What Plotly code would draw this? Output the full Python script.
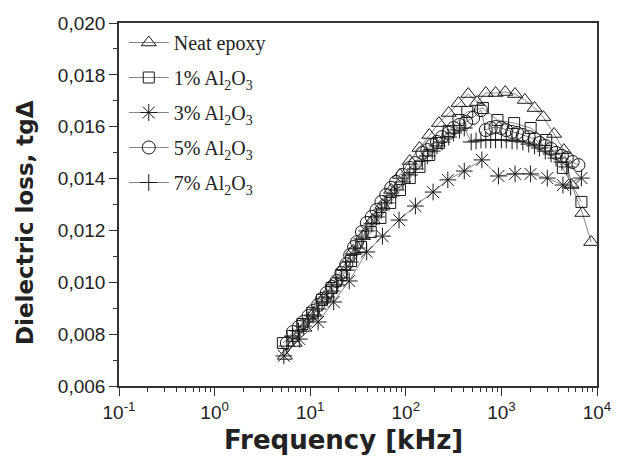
import plotly.graph_objects as go

# ---- data (frequency in kHz, dielectric loss tg delta) ----
f_neat = [5.43, 6.87, 8.69, 11.0, 13.9, 17.6, 22.2, 28.1, 35.6, 45.0, 56.9, 70.3, 86.9, 110, 139, 176, 222, 281, 356, 450,
          556, 687, 869, 1099, 1390, 1758, 2223, 2748, 3556, 4500, 5430, 7031, 8690]
v_neat = [0.00716, 0.00766, 0.00824, 0.00882, 0.00939, 0.00997, 0.01059, 0.01121, 0.01178, 0.01240, 0.01298, 0.01356,
          0.01414, 0.01468, 0.01518, 0.01568, 0.01614, 0.01653, 0.01691, 0.01726, 0.01695, 0.01730, 0.01730, 0.01734,
          0.01726, 0.01703, 0.01672, 0.01637, 0.01572, 0.01510, 0.01375, 0.01267, 0.01155]

f_1 = [5.18, 6.55, 8.28, 10.5, 13.3, 16.8, 21.2, 26.8, 34.0, 43.0, 54.3, 68.7, 86.9, 110, 139, 176, 222, 281, 356, 440,
       640, 910, 1358, 2023, 2945, 4395, 6870]
v_1 = [0.00766, 0.00793, 0.00839, 0.00882, 0.00932, 0.00978, 0.01028, 0.01082, 0.01136, 0.01194, 0.01248, 0.01306,
       0.01356, 0.01402, 0.01445, 0.01491, 0.01537, 0.01583, 0.01626, 0.01657, 0.01672, 0.01626, 0.01614, 0.01595,
       0.01549, 0.01441, 0.01310]

f_3 = [5.3, 7.7, 12.1, 17.6, 25.6, 39, 57, 85, 126, 193, 275, 409, 625, 931, 1390, 2020, 3020, 4400, 6870]
v_3 = [0.00716, 0.00781, 0.00847, 0.00924, 0.01005, 0.01117, 0.01178, 0.01240, 0.01294, 0.01348, 0.01395, 0.01429,
       0.01472, 0.01410, 0.01418, 0.01418, 0.01402, 0.01375, 0.01402]

f_5 = [5.7, 6.6, 7.6, 8.5, 9.6, 10.7, 12.1, 13.3, 14.9, 16.8, 18.9, 21.2, 23.9, 26.2, 28.8, 30.9, 34.8, 39.1, 44.0, 49.4,
       55.6, 62.5, 70.3, 79.1, 93, 110, 126, 149, 168, 189, 212, 239, 281, 316, 364, 429, 506, 611, 687, 773, 869, 1000,
       1125, 1294, 1456, 1675, 1932, 2223, 2500, 2877, 3311, 3724, 4295, 4831, 5559, 6397]
v_5 = [0.00766, 0.00808, 0.00828, 0.00847, 0.00870, 0.00889, 0.00912, 0.00936, 0.00959, 0.00982, 0.01005, 0.01036,
       0.01070, 0.01105, 0.01136, 0.01155, 0.01194, 0.01229, 0.01252, 0.01279, 0.01310, 0.01337, 0.01364, 0.01387,
       0.01414, 0.01441, 0.01460, 0.01499, 0.01510, 0.01529, 0.01541, 0.01560, 0.01576, 0.01595, 0.01607, 0.01618,
       0.01634, 0.01664, 0.01587, 0.01595, 0.01599, 0.01595, 0.01587, 0.01580, 0.01576, 0.01568, 0.01560, 0.01553,
       0.01537, 0.01526, 0.01514, 0.01499, 0.01487, 0.01479, 0.01464, 0.01452]

f_7 = [5.69, 6.55, 7.55, 8.48, 9.55, 10.7, 12.1, 13.3, 14.9, 16.8, 18.9, 21.2, 23.9, 26.2, 28.8, 30.9, 34.8, 39.1, 44.0,
       49.4, 55.6, 62.5, 70.3, 79.1, 93.2, 110, 126, 149, 168, 189, 212, 239, 281, 316, 364, 409, 483, 543, 611, 687,
       773, 869, 1000, 1125, 1294, 1456, 1675, 1932, 2223, 2500, 2877, 3311, 3724, 4295, 4831, 5297]
v_7 = [0.00754, 0.00793, 0.00812, 0.00831, 0.00855, 0.00874, 0.00897, 0.00920, 0.00943, 0.00966, 0.00990, 0.01017,
       0.01047, 0.01078, 0.01109, 0.01132, 0.01167, 0.01198, 0.01225, 0.01252, 0.01279, 0.01306, 0.01333, 0.01356,
       0.01387, 0.01414, 0.01437, 0.01468, 0.01487, 0.01506, 0.01526, 0.01541, 0.01560, 0.01576, 0.01587, 0.01595,
       0.01541, 0.01545, 0.01549, 0.01549, 0.01549, 0.01549, 0.01549, 0.01549, 0.01545, 0.01545, 0.01541, 0.01533,
       0.01526, 0.01518, 0.01506, 0.01495, 0.01479, 0.01464, 0.01445, 0.01367]

names = ["Neat epoxy", "1% Al<sub>2</sub>O<sub>3</sub>", "3% Al<sub>2</sub>O<sub>3</sub>",
         "5% Al<sub>2</sub>O<sub>3</sub>", "7% Al<sub>2</sub>O<sub>3</sub>"]

x_tickvals = [0.1, 1, 10, 100, 1000, 10000]
x_ticktext = ["10<sup>-1</sup>", "10<sup>0</sup>", "10<sup>1</sup>", "10<sup>2</sup>", "10<sup>3</sup>", "10<sup>4</sup>"]

x_title = "Frequency [kHz]"
y_title = "Dielectric loss, tg\u0394"

series = [
    (f_neat, v_neat, "triangle-up-open", 13),
    (f_1, v_1, "square-open", 11),
    (f_3, v_3, "asterisk-open", 14),
    (f_5, v_5, "circle-open", 13),
    (f_7, v_7, "cross-thin-open", 12),
]

fig = go.Figure()
for i, ((fx, vy, sym, sz), nm) in enumerate(zip(series, names)):
    fig.add_trace(go.Scatter(
        x=fx, y=vy, name=nm, mode="lines+markers", legendgroup=f"g{i}",
        line=dict(color="#666666", width=0.8),
        marker=dict(symbol=sym, size=sz, color="#1a1a1a", line=dict(color="#1a1a1a", width=1)),
    ))

axis_common = dict(
    showline=True, linecolor="#333333", linewidth=1.6, mirror=True,
    ticks="outside", ticklen=8, tickwidth=1.4, tickcolor="#333333",
    showgrid=False, zeroline=False, ticklabeloverflow="allow",
    tickfont=dict(family="Liberation Sans, Arial", size=19, color="#222222"),
)

fig.update_layout(
    width=623, height=457,
    margin=dict(l=119, r=14, t=23, b=71),
    paper_bgcolor="white", plot_bgcolor="white",
    separators=",.",
    showlegend=True,
    legend=dict(
        x=0.01, y=1.0, xanchor="left", yanchor="top",
        bgcolor="rgba(0,0,0,0)", borderwidth=0,
        font=dict(family="Liberation Serif, Times New Roman", size=20, color="#222222"),
        tracegroupgap=6, itemwidth=40,
    ),
    xaxis=dict(
        type="log", range=[-1, 4],
        tickvals=x_tickvals, ticktext=x_ticktext,
        minor=dict(ticks="outside", ticklen=4, tickwidth=1.2, tickcolor="#333333", dtick="D1"),
        **axis_common,
    ),
    yaxis=dict(
        range=[0.006, 0.020], dtick=0.002, tickformat=".3f",
        minor=dict(ticks="outside", ticklen=4, tickwidth=1.2, tickcolor="#333333", dtick=0.001),
        **axis_common,
    ),
    annotations=[
        dict(text=f"<b>{x_title}</b>", xref="paper", yref="paper", x=0.47, y=-0.148,
             xanchor="center", yanchor="middle", showarrow=False,
             font=dict(family="DejaVu Sans", size=26, color="#222222")),
        dict(text=f"<b>{y_title}</b>", xref="paper", yref="paper", x=-0.198, y=0.45,
             xanchor="center", yanchor="middle", showarrow=False, textangle=-90,
             font=dict(family="DejaVu Sans", size=23, color="#222222")),
    ],
)

fig.write_html("out.html")
